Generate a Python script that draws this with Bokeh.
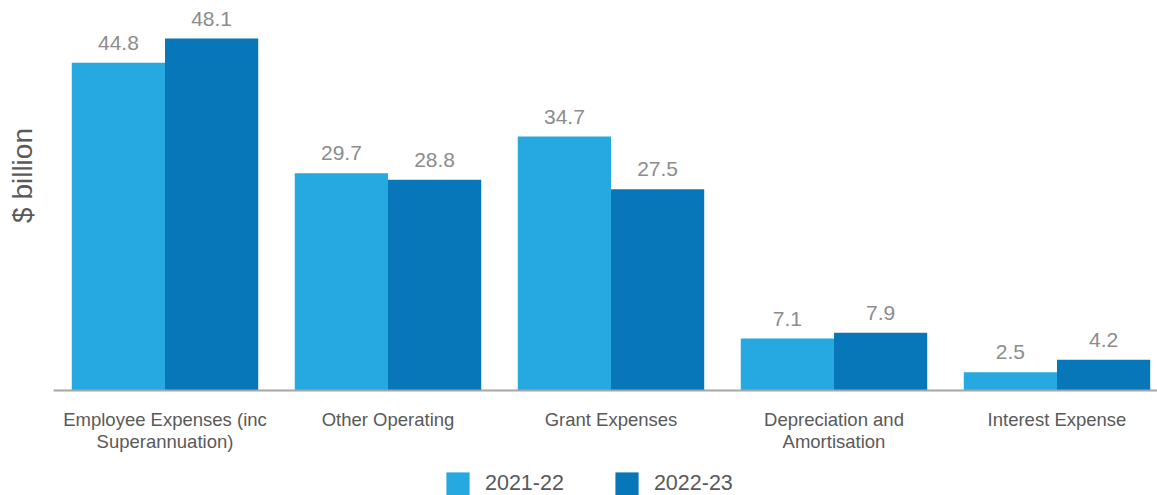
import math
from bokeh.plotting import figure
from bokeh.layouts import column
from bokeh.models import (ColumnDataSource, Range1d, FixedTicker, Legend, LegendItem, Label)
from bokeh.embed import file_html
from bokeh.resources import INLINE
from bokeh.core.properties import value

categories = ["Employee Expenses (inc\nSuperannuation)", "Other Operating", "Grant Expenses",
              "Depreciation and\nAmortisation", "Interest Expense"]
series_names = ["2021-22", "2022-23"]
values_2122 = [44.8, 29.7, 34.7, 7.1, 2.5]
values_2223 = [48.1, 28.8, 27.5, 7.9, 4.2]
y_title = "$ billion"

colors = ["#25A9E0", "#0877BA"]
FONT = "Liberation Sans"

idx = list(range(len(categories)))
off = 0.209
bw = 0.418
px_per_cat = 223.0
px_per_unit = 7.318
x_start = -0.5 - 53 / px_per_cat
x_end = x_start + 1157 / px_per_cat

src1 = ColumnDataSource(dict(x=[i - off for i in idx], top=values_2122,
                             lab=[f"{v:.1f}" for v in values_2122]))
src2 = ColumnDataSource(dict(x=[i + off for i in idx], top=values_2223,
                             lab=[f"{v:.1f}" for v in values_2223]))

p = figure(width=1157, height=456, output_backend="svg", toolbar_location=None,
           x_range=Range1d(x_start, x_end), y_range=Range1d(0, 380 / px_per_unit),
           min_border_left=0, min_border_right=0, min_border_top=10, min_border_bottom=66)
p.outline_line_color = None
p.grid.visible = False
p.background_fill_color = "white"
p.border_fill_color = "white"

p.vbar(x="x", top="top", width=bw, source=src1, fill_color=colors[0], line_color=None)
p.vbar(x="x", top="top", width=bw, source=src2, fill_color=colors[1], line_color=None)

for s in (src1, src2):
    p.text(x="x", y="top", text="lab", source=s, text_align="center", text_baseline="alphabetic",
           y_offset=-20, text_font=value(FONT), text_font_size="21px", text_color="#8C8C8C")

p.yaxis.visible = False
p.add_layout(Label(x=x_start + 21.5 / px_per_cat, y=(390 - 175) / px_per_unit, text=y_title,
                   angle=math.pi / 2, text_align="center", text_baseline="middle",
                   text_font=FONT, text_font_size="28px", text_color="#595959"))

ax = p.xaxis[0]
ax.bounds = (-0.5, x_end)
ax.ticker = FixedTicker(ticks=idx)
ax.major_label_overrides = {i: c for i, c in zip(idx, categories)}
ax.major_tick_line_color = None
ax.minor_tick_line_color = None
ax.axis_line_color = "#A6A6A6"
ax.axis_line_width = 2
ax.major_label_standoff = 12
ax.major_label_text_font = FONT
ax.major_label_text_font_size = "18.5px"
ax.major_label_text_line_height = 1.05
ax.major_label_text_color = "#595959"

# legend strip below the chart (zero-height swatch renderers only feed the legend)
lg = figure(width=1157, height=39, output_backend="svg", toolbar_location=None,
            x_range=Range1d(0, 1), y_range=Range1d(0, 1),
            min_border_left=0, min_border_right=0, min_border_top=0, min_border_bottom=0)
lg.outline_line_color = None
lg.grid.visible = False
lg.axis.visible = False
l1 = lg.vbar(x=[0.5], top=[0], bottom=[0], width=0.01, fill_color=colors[0], line_color=None)
l2 = lg.vbar(x=[0.5], top=[0], bottom=[0], width=0.01, fill_color=colors[1], line_color=None)
legend = Legend(items=[LegendItem(label=series_names[0], renderers=[l1]),
                       LegendItem(label=series_names[1], renderers=[l2])],
                orientation="horizontal", location=(443, -3),
                glyph_width=29, glyph_height=29, label_height=29, label_standoff=13,
                label_width=78, spacing=48, padding=0, margin=0, border_line_color=None,
                background_fill_alpha=0, label_text_font=FONT, label_text_font_size="21.5px",
                label_text_color="#595959")
lg.add_layout(legend, "center")

layout = column(p, lg, spacing=0)
open("out.html", "w").write(file_html(layout, INLINE))
